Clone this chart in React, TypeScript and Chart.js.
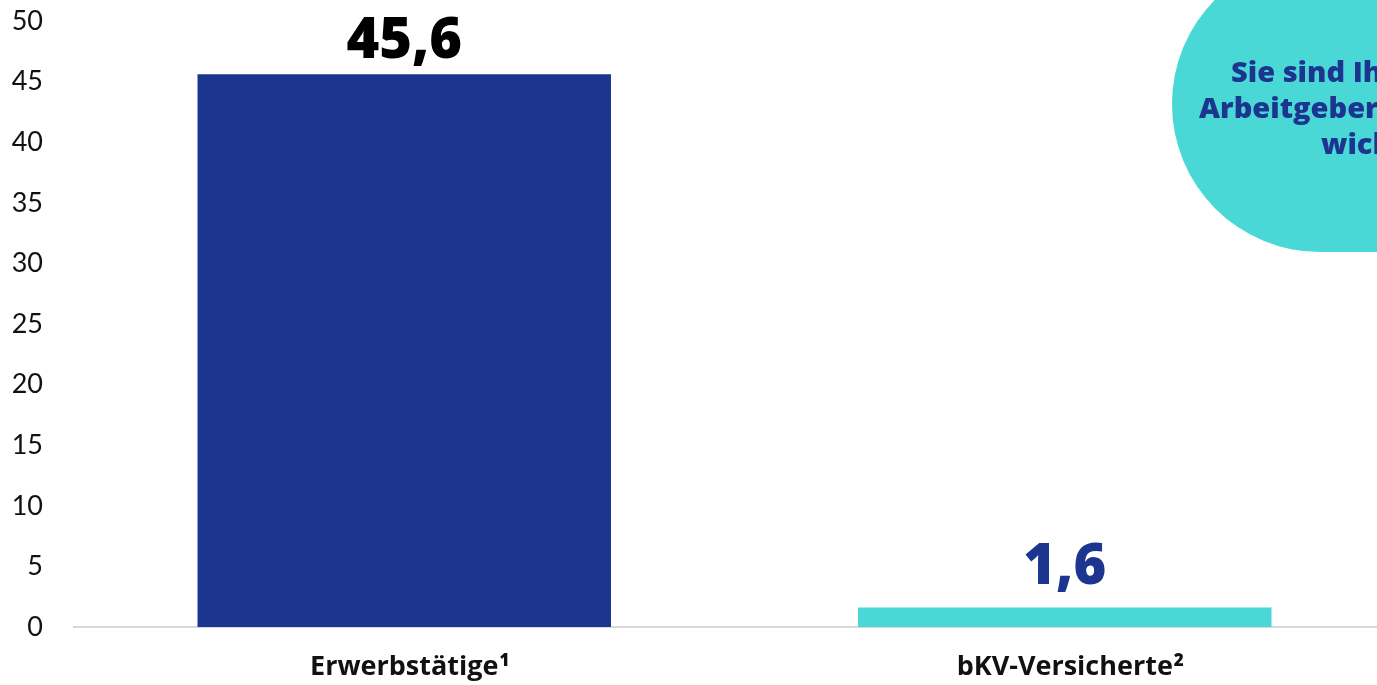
import React, { useEffect, useRef } from "react";
import { Chart, registerables } from "chart.js";

Chart.register(...registerables);

const categories = ["Erwerbstätige", "bKV-Versicherte"];
const footnotes = ["1", "2"];
const values = [45.6, 1.6];
const valueLabels = ["45,6", "1,6"];
const barColors = ["#1c368f", "#4ad8d7"];
const labelColors = ["#000000", "#1c368f"];
const yMin = 0;
const yMax = 50;
const yStep = 5;
const bubbleLines = ["Sie sind Ihren", "Arbeitgebern", "wichtig."];

const TICK_FONT = "Lato, 'Open Sans', sans-serif";
const BOLD_FONT = "'Open Sans', Lato, sans-serif";
const X_LABEL_SIZE = 27;

export default function App() {
  const ref = useRef<HTMLCanvasElement | null>(null);

  useEffect(() => {
    if (!ref.current) return;

    const valueLabelPlugin = {
      id: "valueLabels",
      afterDatasetsDraw(chart: any) {
        const ctx = chart.ctx;
        const meta = chart.getDatasetMeta(0);
        const offsets = [16, 24];
        ctx.save();
        ctx.font = `800 56px ${BOLD_FONT}`;
        ctx.textAlign = "center";
        ctx.textBaseline = "alphabetic";
        meta.data.forEach((bar: any, i: number) => {
          ctx.fillStyle = labelColors[i];
          ctx.fillText(valueLabels[i], bar.x, bar.y - offsets[i]);
        });
        ctx.restore();
      },
    };

    const footnotePlugin = {
      id: "footnotes",
      afterDraw(chart: any) {
        const ctx = chart.ctx;
        const xScale = chart.scales.x;
        ctx.save();
        ctx.font = `bold ${X_LABEL_SIZE}px ${BOLD_FONT}`;
        const widths = categories.map((c) => ctx.measureText(c).width);
        ctx.font = `800 17px ${BOLD_FONT}`;
        ctx.fillStyle = "#111111";
        ctx.textAlign = "left";
        ctx.textBaseline = "alphabetic";
        categories.forEach((_, i) => {
          const cx = xScale.getPixelForValue(i);
          ctx.fillText(footnotes[i], cx + widths[i] / 2 + 1, 666);
        });
        ctx.restore();
      },
    };

    const bubblePlugin = {
      id: "bubble",
      afterDraw(chart: any) {
        const ctx = chart.ctx;
        ctx.save();
        ctx.fillStyle = "#4ad8d7";
        ctx.beginPath();
        ctx.arc(1320, 104, 148, 0, Math.PI * 2);
        ctx.fill();
        ctx.fillRect(1320, 104, 200, 148);
        ctx.fillStyle = "#1c368f";
        ctx.font = `800 29px ${BOLD_FONT}`;
        ctx.textAlign = "left";
        ctx.textBaseline = "alphabetic";
        ctx.fillText(bubbleLines[0], 1231, 82);
        ctx.fillText(bubbleLines[1], 1199, 118);
        ctx.fillText(bubbleLines[2], 1321, 154);
        ctx.restore();
      },
    };

    const chart = new Chart(ref.current, {
      type: "bar",
      data: {
        labels: categories,
        datasets: [
          {
            data: values,
            backgroundColor: barColors,
            borderWidth: 0,
            categoryPercentage: 1,
            barPercentage: 0.626,
          },
        ],
      },
      options: {
        animation: false,
        responsive: true,
        maintainAspectRatio: false,
        layout: { padding: { top: 21, left: 0, right: 0, bottom: 0 } },
        plugins: {
          legend: { display: false },
          tooltip: { enabled: false },
        },
        scales: {
          y: {
            min: yMin,
            max: yMax,
            ticks: {
              stepSize: yStep,
              padding: 31,
              color: "#111111",
              font: { family: TICK_FONT, size: 27, weight: "normal" },
            },
            grid: { display: false, drawTicks: false },
            border: { display: false },
            afterFit(scale: any) {
              scale.width = 74;
              scale.paddingTop = 0;
              scale.paddingBottom = 0;
            },
          },
          x: {
            grid: { display: false, drawTicks: false },
            border: { display: true, color: "#d9d9d9", width: 2 },
            ticks: {
              padding: 24,
              color: "#111111",
              font: { family: BOLD_FONT, size: X_LABEL_SIZE, weight: "bold" },
            },
            afterFit(scale: any) {
              scale.height = 58;
              scale.paddingLeft = 0;
              scale.paddingRight = 0;
            },
          },
        },
      },
      plugins: [valueLabelPlugin, footnotePlugin, bubblePlugin],
    } as any);

    return () => chart.destroy();
  }, []);

  return (
    <div
      style={{
        position: "fixed",
        left: 0,
        top: 0,
        width: "100vw",
        height: "100vh",
        overflow: "hidden",
        background: "#ffffff",
      }}
    >
      <div style={{ position: "absolute", left: 0, top: 0, width: 1395, height: 685 }}>
        <canvas ref={ref} />
      </div>
    </div>
  );
}
